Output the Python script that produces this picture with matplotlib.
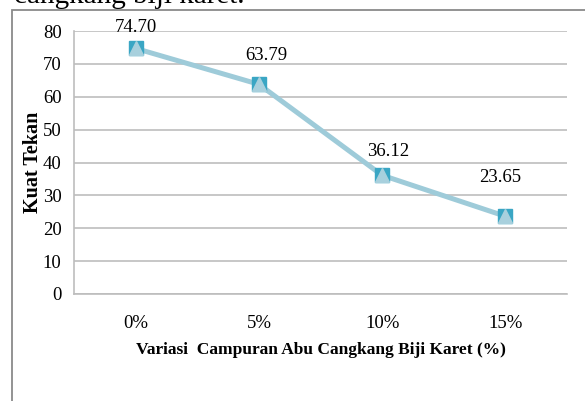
import matplotlib
matplotlib.use("Agg")
import matplotlib.pyplot as plt
import matplotlib.patches as mpatches

categories = ["0%", "5%", "10%", "15%"]
kuat_tekan = [74.70, 63.79, 36.12, 23.65]
value_labels = ["74.70", "63.79", "36.12", "23.65"]
yticks = [0, 10, 20, 30, 40, 50, 60, 70, 80]

# label offsets (points) as placed in the original
label_dx = [0, 5, 4, -4]
label_dy = [15, 21, 17, 28]

plt.rcParams['font.family'] = ['Liberation Serif', 'DejaVu Serif']

fig = plt.figure(figsize=(5.85, 4.01), dpi=100)
ax = fig.add_axes([74/585, 1 - 294/401, (567 - 74)/585, (294 - 31)/401])

x = list(range(len(categories)))
ax.plot(x, kuat_tekan, color="#9ecbd9", lw=3.6, zorder=3)
ax.plot(x, kuat_tekan, ls="none", marker="s", ms=10, mfc="#3aa6c4", mec="#3aa6c4", zorder=4)
ax.plot(x, kuat_tekan, ls="none", marker="^", ms=10, mfc="#a8d0dd", mec="#a8d0dd", zorder=5)

for i, lab in enumerate(value_labels):
    ax.annotate(lab, (x[i], kuat_tekan[i]), xytext=(label_dx[i], label_dy[i]),
                textcoords="offset points", ha="center", va="center", fontsize=13.5,
                annotation_clip=False)

ax.set_xlim(-0.5, 3.5)
ax.set_ylim(0, 80)
ax.set_yticks(yticks)
ax.set_xticks(x)
ax.set_xticklabels(categories)
ax.tick_params(length=0, labelsize=13.5)
ax.tick_params(axis="x", pad=15)
ax.tick_params(axis="y", pad=9)
ax.yaxis.grid(True, color="#bdbdbd", lw=1.2)
ax.set_axisbelow(True)
for s in ["top", "right"]:
    ax.spines[s].set_visible(False)
ax.spines["left"].set_color("#bdbdbd")
ax.spines["bottom"].set_color("#bdbdbd")
ax.spines["left"].set_linewidth(1.2)
ax.spines["bottom"].set_linewidth(1.2)

ax.set_xlabel("Variasi  Campuran Abu Cangkang Biji Karet (%)", fontsize=12.5, fontweight="bold", labelpad=7)
ax.set_ylabel("Kuat Tekan", fontsize=14.5, fontweight="bold", labelpad=0)

# outer chart frame, cut off at right and bottom
frame = mpatches.Rectangle((12/585, -0.2), 1.2, 1 - 10/401 + 0.2, transform=fig.transFigure,
                           fill=False, edgecolor="#8a8a8a", lw=1.3, clip_on=False)
fig.patches.append(frame)

fig.text(14/585, 1 - 3/401, "cangkang biji karet.", fontsize=21, va="baseline", ha="left")

fig.savefig("out.png", dpi=100)
